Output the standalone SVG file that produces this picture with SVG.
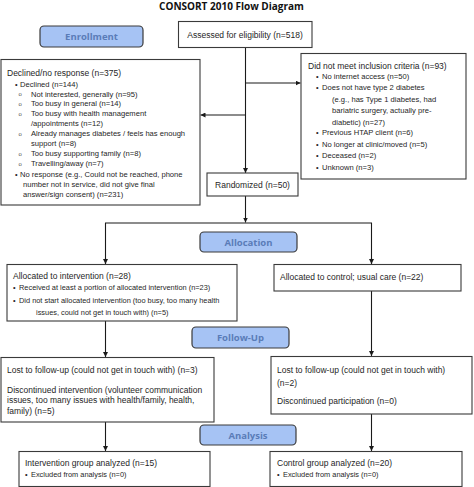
<svg xmlns="http://www.w3.org/2000/svg" width="474" height="487" viewBox="0 0 474 487">
<defs>
<marker id="ah" viewBox="0 0 10 10" refX="10" refY="5" markerWidth="5" markerHeight="5" orient="auto" markerUnits="userSpaceOnUse">
<path d="M0,0 L10,5 L0,10 z" fill="#1a1a1a"/>
</marker>
</defs>
<style>
.box{fill:#fff;stroke:#3a3a3a;stroke-width:1.1}
.btn{fill:#a6c3f4;stroke:#3a3a3a;stroke-width:1.2}
.bt{font-family:"Open Sans","Liberation Sans",sans-serif;font-weight:bold;font-size:9.5px;fill:#5a7cb8;text-anchor:middle}
.t{font-family:"Liberation Sans",Arial,sans-serif;font-size:8.5px;fill:#262626}
.s{font-family:"Liberation Sans",Arial,sans-serif;font-size:7.6px;fill:#262626}
.b{font-family:"Liberation Sans",Arial,sans-serif;font-size:7.4px;fill:#262626}
.o{font-family:"Liberation Sans",Arial,sans-serif;font-size:6px;fill:#555}
.ln{fill:none;stroke:#1a1a1a;stroke-width:1.1}
</style>
<rect width="474" height="487" fill="#fff"/>
<text x="231.5" y="10" text-anchor="middle" style="font-family:'Open Sans','Liberation Sans',sans-serif;font-weight:bold;font-size:10px;fill:#111">CONSORT 2010 Flow Diagram</text>

<g id="connectors">
<line class="ln" x1="245.5" y1="48" x2="245.5" y2="173" marker-end="url(#ah)"/>
<line class="ln" x1="245.5" y1="115" x2="200.5" y2="115" marker-end="url(#ah)"/>
<line class="ln" x1="245.5" y1="83" x2="300.5" y2="83" marker-end="url(#ah)"/>
<line class="ln" x1="245.5" y1="196" x2="245.5" y2="222.5" marker-end="url(#ah)"/>
<polyline class="ln" points="105.5,264 105.5,223 371.5,223 371.5,264"/>
<line class="ln" x1="105.5" y1="258" x2="105.5" y2="264" marker-end="url(#ah)"/>
<line class="ln" x1="371.5" y1="258" x2="371.5" y2="264" marker-end="url(#ah)"/>
<line class="ln" x1="105.5" y1="321" x2="105.5" y2="357" marker-end="url(#ah)"/>
<line class="ln" x1="371.5" y1="291" x2="371.5" y2="356" marker-end="url(#ah)"/>
<line class="ln" x1="105.5" y1="422" x2="105.5" y2="451" marker-end="url(#ah)"/>
<line class="ln" x1="371.5" y1="414" x2="371.5" y2="451" marker-end="url(#ah)"/>
</g>

<g id="enrollment">
<rect class="btn" x="40" y="26" width="103" height="21" rx="4"/>
<text class="bt" x="91.5" y="40">Enrollment</text>
</g>

<g id="assessed">
<rect class="box" x="178.5" y="21.5" width="133.5" height="26"/>
<text class="t" x="245" y="38" text-anchor="middle">Assessed for eligibility (n=518)</text>
</g>

<g id="declined">
<rect class="box" x="1" y="59.5" width="199" height="145.5"/>
<text class="t" x="7" y="76">Declined/no response (n=375)</text>
<text class="b" x="15" y="87">•</text><text class="s" x="20" y="87">Declined (n=144)</text>
<text class="o" x="18.5" y="96">o</text><text class="s" x="31" y="96.5">Not interested, generally (n=95)</text>
<text class="o" x="18.5" y="105.5">o</text><text class="s" x="31" y="106">Too busy in general (n=14)</text>
<text class="o" x="18.5" y="115.5">o</text><text class="s" x="31" y="116">Too busy with health management</text>
<text class="s" x="31" y="125.5">/appointments (n=12)</text>
<text class="o" x="18.5" y="135.5">o</text><text class="s" x="31" y="136">Already manages diabetes / feels has enough</text>
<text class="s" x="31" y="145.5">support (n=8)</text>
<text class="o" x="18.5" y="155.5">o</text><text class="s" x="31" y="156">Too busy supporting family (n=8)</text>
<text class="o" x="18.5" y="165.5">o</text><text class="s" x="31" y="166">Travelling/away (n=7)</text>
<text class="b" x="15" y="176.5">•</text><text class="s" x="20" y="176.5">No response (e.g., Could not be reached, phone</text>
<text class="s" x="23" y="186.5">number not in service, did not give final</text>
<text class="s" x="23" y="196.5">answer/sign consent) (n=231)</text>
</g>

<g id="notmeet">
<rect class="box" x="301" y="53.5" width="165" height="125.5"/>
<text class="t" x="308" y="69">Did not meet inclusion criteria (n=93)</text>
<text class="b" x="316" y="78.5">•</text><text class="s" x="322" y="78.5">No internet access (n=50)</text>
<text class="b" x="316" y="90">•</text><text class="s" x="322" y="90">Does not have type 2 diabetes</text>
<text class="s" x="332" y="101.5">(e.g., has Type 1 diabetes, had</text>
<text class="s" x="332" y="113">bariatric surgery, actually pre-</text>
<text class="s" x="332" y="124.5">diabetic) (n=27)</text>
<text class="b" x="316" y="135">•</text><text class="s" x="322" y="135">Previous HTAP client (n=6)</text>
<text class="b" x="316" y="146.5">•</text><text class="s" x="322" y="146.5">No longer at clinic/moved (n=5)</text>
<text class="b" x="316" y="158">•</text><text class="s" x="322" y="158">Deceased (n=2)</text>
<text class="b" x="316" y="169.5">•</text><text class="s" x="322" y="169.5">Unknown (n=3)</text>
</g>

<g id="randomized">
<rect class="box" x="207" y="173" width="91" height="23"/>
<text class="t" x="252.5" y="188" text-anchor="middle">Randomized (n=50)</text>
</g>

<g id="allocation">
<rect class="btn" x="200" y="232" width="97" height="20" rx="4"/>
<text class="bt" x="248.5" y="245.5">Allocation</text>
</g>

<g id="intervention">
<rect class="box" x="7" y="264.5" width="230" height="56.5"/>
<text class="t" x="13" y="279">Allocated to intervention (n=28)</text>
<text class="b" x="13" y="289.5">•</text><text class="b" x="19" y="289.5">Received at least a portion of allocated intervention (n=23)</text>
<text class="b" x="13" y="302.5">•</text><text class="b" x="19" y="302.5">Did not start allocated intervention (too busy, too many health</text>
<text class="b" x="36" y="314.5">issues, could not get in touch with) (n=5)</text>
</g>

<g id="control">
<rect class="box" x="274" y="264.5" width="187" height="26.5"/>
<text class="t" x="280" y="279.5">Allocated to control; usual care (n=22)</text>
</g>

<g id="followup">
<rect class="btn" x="192" y="327" width="97" height="21" rx="4"/>
<text class="bt" x="240.5" y="341">Follow-Up</text>
</g>

<g id="lostleft">
<rect class="box" x="1" y="357.5" width="213" height="64.5"/>
<text class="t" x="7" y="373">Lost to follow-up (could not get in touch with) (n=3)</text>
<text class="t" x="7" y="393">Discontinued intervention (volunteer communication</text>
<text class="t" x="7" y="403">issues, too many issues with health/family, health,</text>
<text class="t" x="7" y="413.5">family) (n=5)</text>
</g>

<g id="lostright">
<rect class="box" x="271" y="356.5" width="201" height="57.5"/>
<text class="t" x="277" y="373">Lost to follow-up (could not get in touch with)</text>
<text class="t" x="277" y="385.5">(n=2)</text>
<text class="t" x="277" y="404">Discontinued participation (n=0)</text>
</g>

<g id="analysis">
<rect class="btn" x="200" y="425" width="96" height="20" rx="4"/>
<text class="bt" x="248" y="438.5">Analysis</text>
</g>

<g id="intanalyzed">
<rect class="box" x="19" y="451.5" width="191" height="35"/>
<text class="t" x="25" y="466">Intervention group analyzed (n=15)</text>
<text class="b" x="25" y="477">•</text><text class="b" x="31" y="477">Excluded from analysis (n=0)</text>
</g>

<g id="ctlanalyzed">
<rect class="box" x="270" y="451.5" width="192" height="35"/>
<text class="t" x="277" y="466">Control group analyzed (n=20)</text>
<text class="b" x="277" y="477">•</text><text class="b" x="283" y="477">Excluded from analysis (n=0)</text>
</g>
</svg>
